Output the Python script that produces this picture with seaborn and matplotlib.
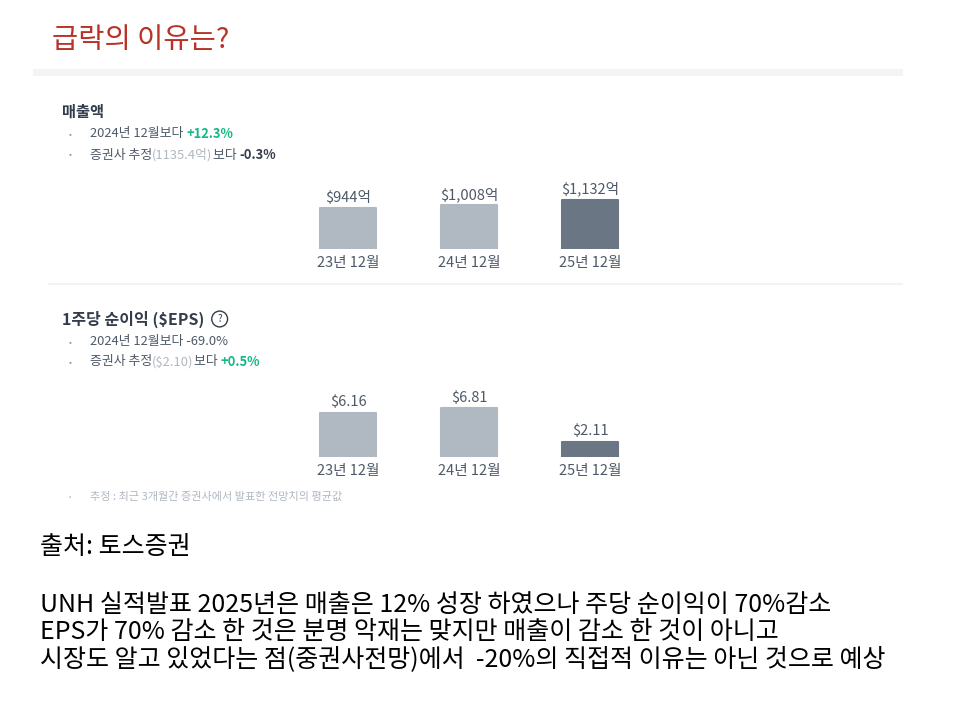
import matplotlib
matplotlib.use("Agg")
import matplotlib.pyplot as plt
import pandas as pd
import seaborn as sns

sns.set_theme(style="white")
plt.rcParams["font.family"] = ["Noto Sans CJK KR", "DejaVu Sans"]
plt.rcParams["text.parse_math"] = False

periods = ["23년 12월", "24년 12월", "25년 12월"]
revenue = [944, 1008, 1132]
revenue_labels = ["$944억", "$1,008억", "$1,132억"]
eps = [6.16, 6.81, 2.11]
eps_labels = ["$6.16", "$6.81", "$2.11"]

DARK = "#4e5968"
GREY = "#8b95a1"
LIGHT = "#b0b8c1"
GREEN = "#12b886"
BAR_LIGHT = "#b0b8c1"
BAR_DARK = "#6b7684"

W, H = 960, 720
fig = plt.figure(figsize=(W / 100, H / 100), dpi=100)
bg = fig.add_axes([0, 0, 1, 1])
bg.set_xlim(0, W)
bg.set_ylim(H, 0)
bg.axis("off")


def segs(x, y, parts, size):
    # text pieces side by side, each with its own colour/weight
    s, c, w = parts[0]
    t = bg.text(x, y, s, color=c, fontsize=size, fontweight=w, va="center", ha="left")
    for s, c, w in parts[1:]:
        t = bg.annotate(s, xy=(1, 0.5), xycoords=t, va="center", ha="left",
                        color=c, fontsize=size, fontweight=w)
    return t


# title
bg.text(52, 40, "급락의 이유는?", color="#b83227", fontsize=20.5, va="center")

# panel decorations
bg.add_patch(plt.Rectangle((33, 69), 870, 7, color="#f2f4f6", lw=0))
bg.add_patch(plt.Rectangle((48, 283), 855, 1.5, color="#f2f3f5", lw=0))

# revenue header
bg.text(62, 112, "매출액", color="#333d4b", fontsize=11, fontweight="bold", va="center")
for y in (134, 155):
    bg.text(70, y, "•", color=GREY, fontsize=6, va="center", ha="center")
segs(90, 134, [("2024년 12월보다 ", DARK, "normal"), ("+12.3%", GREEN, "bold")], 9.3)
segs(90, 155, [("증권사 추정", DARK, "normal"), ("(1135.4억)", LIGHT, "normal"),
               ("보다 ", DARK, "normal"), ("-0.3%", "#333d4b", "bold")], 9.3)

# eps header
hdr = segs(62, 319, [("1주당 순이익 ($EPS)", "#333d4b", "bold")], 11.5)
bg.annotate("?", xy=(1, 0.5), xycoords=hdr, xytext=(11, 0), textcoords="offset points",
            color="#333d4b", fontsize=7, va="center", ha="center",
            bbox=dict(boxstyle="circle,pad=0.3", fc="white", ec="#333d4b", lw=1))
for y in (342, 362):
    bg.text(70, y, "•", color=GREY, fontsize=6, va="center", ha="center")
segs(90, 342, [("2024년 12월보다 -69.0%", DARK, "normal")], 9.3)
segs(90, 362, [("증권사 추정", DARK, "normal"), ("($2.10)", LIGHT, "normal"),
               ("보다 ", DARK, "normal"), ("+0.5%", GREEN, "bold")], 9.3)

bg.text(70, 497, "•", color=LIGHT, fontsize=5, va="center", ha="center")
bg.text(90, 497, "추정 : 최근 3개월간 증권사에서 발표한 전망치의 평균값", color=LIGHT,
        fontsize=8, va="center")


def bars(bottom_px, values, labels):
    df = pd.DataFrame({"period": periods, "value": values})
    height_px = 60
    left = (348 - 60.5) / W
    ax = fig.add_axes([left, 1 - bottom_px / H, 363 / W, height_px / H])
    sns.barplot(data=df, x="period", y="value", hue="period",
                palette=[BAR_LIGHT, BAR_LIGHT, BAR_DARK], width=0.46, legend=False,
                ax=ax, saturation=1)
    for p in ax.patches:
        p.set_edgecolor(p.get_facecolor())
        p.set_linewidth(1.5)
        p.set_joinstyle("round")
    ax.set_xlim(-0.5, 2.5)
    ax.set_ylim(0, max(values) * height_px / 49)
    for i, (v, lab) in enumerate(zip(values, labels)):
        ax.annotate(lab, (i, v), xytext=(0, 2.5), textcoords="offset points", ha="center",
                    va="bottom", fontsize=10.5, color=DARK, annotation_clip=False)
    ax.set_xlabel("")
    ax.set_ylabel("")
    ax.set_yticks([])
    ax.tick_params(axis="x", length=0, pad=5, labelsize=10.5, labelcolor=DARK)
    sns.despine(ax=ax, left=True, bottom=True)
    ax.set_facecolor("none")


bars(249, revenue, revenue_labels)
bars(457, eps, eps_labels)

# commentary below
bg.text(40, 547, "출처: 토스증권", color="black", fontsize=18, va="center")
body = ["UNH 실적발표 2025년은 매출은 12% 성장 하였으나 주당 순이익이 70%감소",
        "EPS가 70% 감소 한 것은 분명 악재는 맞지만 매출이 감소 한 것이 아니고",
        "시장도 알고 있었다는 점(중권사전망)에서  -20%의 직접적 이유는 아닌 것으로 예상"]
for i, line in enumerate(body):
    bg.text(40, 605 + 27 * i, line, color="black", fontsize=18, va="center")

fig.savefig("out.png", dpi=100)
